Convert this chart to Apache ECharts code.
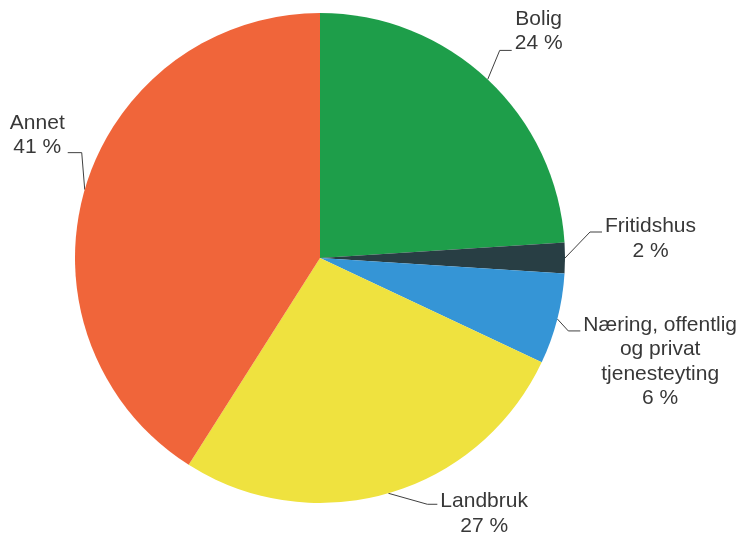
<!DOCTYPE html>
<html>
<head>
<meta charset="utf-8">
<script src="https://cdn.jsdelivr.net/npm/echarts@6/dist/echarts.min.js"></script>
<style>
  html, body { margin: 0; padding: 0; background: #fff; }
  #chart { width: 744px; height: 536px; }
</style>
</head>
<body>
<div id="chart"></div>
<script>
// Share of area by land use (percent)
const categories = ['Bolig', 'Fritidshus', 'Næring, offentlig\nog privat\ntjenesteyting', 'Landbruk', 'Annet'];
const shares = [24, 2, 6, 27, 41];
const sliceColors = ['#1e9e4a', '#283e44', '#3595d6', '#efe23f', '#f0653a'];

// Leader lines: bend offset from the slice edge, horizontal tail length, vertical text shift
const leaderBend = [[12, -29], [25, -26], [11, 12], [39, 11], [-3, -37]];
const leaderTail = [12, 12, 12, 10, 14];
const textShiftY = [-19, 6.5, 31, 9.5, -17.5];
const textGap = 3;

const chart = echarts.init(document.getElementById('chart'), null, { renderer: 'canvas' });

const pieData = categories.map((name, i) => ({
  name: name,
  value: shares[i],
  itemStyle: { color: sliceColors[i] }
}));

const labelFont = 'Liberation Sans, Arial, sans-serif';

chart.setOption({
  animation: false,
  backgroundColor: '#ffffff',
  series: [{
    type: 'pie',
    center: [320, 258],
    radius: 245,
    startAngle: 90,
    clockwise: true,
    avoidLabelOverlap: false,
    data: pieData,
    itemStyle: { borderWidth: 0 },
    emphasis: { disabled: true },
    label: {
      show: true,
      position: 'outside',
      fontFamily: labelFont,
      fontSize: 21,
      color: '#383838',
      formatter: function (p) {
        const lines = p.name.split('\n').concat([p.value + ' %']);
        return lines.map(l => '{t|' + l + '}').join('\n');
      },
      rich: {
        t: {
          align: 'center',
          fontFamily: labelFont,
          fontSize: 21,
          lineHeight: 24.5,
          color: '#383838'
        }
      }
    },
    labelLine: {
      show: true,
      length: 20,
      length2: 12,
      smooth: false,
      lineStyle: { color: '#404040', width: 1 }
    },
    labelLayout: function (params) {
      const i = params.dataIndex;
      const pts = params.labelLinePoints;
      if (!pts || pts.length < 3) return {};
      const side = pts[2][0] >= pts[1][0] ? 1 : -1;
      const p0 = pts[0];
      const bend = [p0[0] + leaderBend[i][0], p0[1] + leaderBend[i][1]];
      const tail = [bend[0] + side * leaderTail[i], bend[1]];
      return {
        x: tail[0] + side * textGap,
        y: tail[1] + textShiftY[i],
        align: side > 0 ? 'left' : 'right',
        verticalAlign: 'middle',
        labelLinePoints: [p0, bend, tail]
      };
    }
  }]
});
</script>
</body>
</html>
